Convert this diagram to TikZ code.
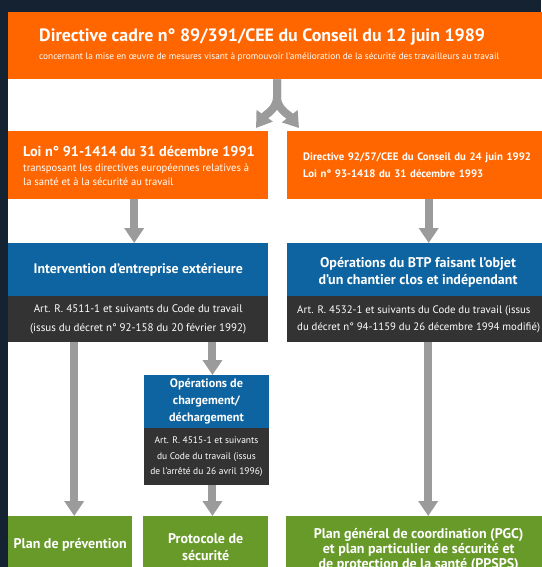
\documentclass[tikz,border=0pt]{standalone}
\usepackage{fontspec}
\setmainfont{PT Sans}
\usetikzlibrary{arrows.meta,calc}
\definecolor{navy}{HTML}{152232}
\definecolor{orng}{HTML}{FF6600}
\definecolor{blu}{HTML}{0E64A0}
\definecolor{drk}{HTML}{333333}
\definecolor{grn}{HTML}{689A2A}
\definecolor{arrg}{HTML}{9B9B9B}
\newcommand{\fs}[2]{\fontsize{#1}{#2}\selectfont}
\begin{document}
\begin{tikzpicture}[x=1pt,y=-1pt,
  box/.style={rectangle, inner sep=0pt, anchor=north west, text=white},
  txt/.style={inner sep=0pt, text=white},
  arr/.style={draw=arrg, line width=8pt, -{Triangle[width=19pt,length=15pt]}},
  bluebox/.style={box, fill=blu, font=\bfseries\fs{13.8}{17}, align=center},
  darkbox/.style={box, fill=drk, font=\fs{11}{19}, align=center},
  greenbox/.style={box, fill=grn, font=\bfseries\fs{14}{16.5}, align=center}]
\useasboundingbox (0,0) rectangle (541,567);
\fill[navy] (0,0) rectangle (541,567);
\fill[white] (8,12) rectangle (541,567);

% top banner
\node[box, fill=orng, minimum width=545pt, minimum height=67pt] (top) at (8,12) {};
\node[txt, anchor=west, font=\bfseries\fs{17.9}{20}] (toptitle) at (39,37)
  {Directive cadre n° 89/391/CEE du Conseil du 12 juin 1989};
\node[txt, anchor=west, font=\fs{9.3}{11}] (topsub) at (39,57.5)
  {concernant la mise en œuvre de mesures visant à promouvoir l’amélioration de la sécurité des travailleurs au travail};

% second row
\node[box, fill=orng, minimum width=260pt, minimum height=68pt] (loi) at (8,131) {};
\node[txt, anchor=west, align=left, font=\fs{10.6}{14}] (loitxt) at (23,166)
  {{\bfseries\fs{14.3}{15}Loi n° 91-1414 du 31 décembre 1991}\\[1pt]
   transposant les directives européennes relatives à\\
   la santé et à la sécurité au travail};
\node[box, fill=orng, minimum width=264pt, minimum height=68pt, inner xsep=16pt, text width=232pt, align=left, font=\bfseries\fs{10.8}{17}] (dir) at (287,131)
  {Directive 92/57/CEE du Conseil du 24 juin 1992\\ Loi n° 93-1418 du 31 décembre 1993};

% third row
\node[bluebox, minimum width=260pt, minimum height=53pt] (lblue) at (8,243)
  {Intervention d’entreprise extérieure};
\node[darkbox, minimum width=260pt, minimum height=46pt] (ldark) at (8,296)
  {Art. R. 4511-1 et suivants du Code du travail\\ (issus du décret n° 92-158 du 20 février 1992)};
\node[box, fill=blu, minimum width=264pt, minimum height=53pt] (rblue) at (287,243) {};
\node[txt, align=center, font=\bfseries\fs{14}{17}] (rbluetxt) at (418,272.5)
  {Opérations du BTP faisant l’objet\\ d’un chantier clos et indépendant};
\node[box, fill=drk, minimum width=264pt, minimum height=46pt] (rdark) at (287,296) {};
\node[txt, anchor=west, align=left, font=\fs{10.8}{17.5}] (rdarktxt) at (297,319.5)
  {Art. R. 4532-1 et suivants du Code du travail (issus\\ du décret n° 94-1159 du 26 décembre 1994 modifié)};

% small middle boxes
\node[bluebox, font=\bfseries\fs{12.2}{17}, minimum width=125.5pt, minimum height=53pt] (sblue) at (143.5,375)
  {Opérations de\\ chargement/\\ déchargement};
\node[darkbox, font=\fs{9.5}{15.5}, minimum width=125.5pt, minimum height=57pt] (sdark) at (143.5,428)
  {Art. R. 4515-1 et suivants\\ du Code du travail (issus\\ de l’arrêté du 26 avril 1996)};

% green boxes
\node[greenbox, minimum width=124pt, minimum height=58pt] (lgreen) at (8,516) {Plan de prévention};
\node[greenbox, font=\bfseries\fs{14}{17}, minimum width=125pt, minimum height=61pt] (mgreen) at (143,516) {Protocole de\\ sécurité};
\node[greenbox, font=\bfseries\fs{14}{15}, minimum width=265pt, minimum height=68pt] (rgreen) at (286,516)
  {Plan général de coordination (PGC)\\ et plan particulier de sécurité et\\ de protection de la santé (PPSPS)};

% fork arrow
\coordinate (fk) at (277,97);
\draw[arr] (top.south -| fk) -- (fk) .. controls (277,109) and (266,114) .. (256,128);
\draw[arr] (top.south -| fk) -- (fk) .. controls (277,109) and (288,114) .. (299,128);

% vertical arrows
\coordinate (la) at ([xshift=-4pt]lblue.north);
\draw[arr] (loi.south -| la) -- (la);
\coordinate (ra) at ([xshift=9.5pt]rblue.north);
\draw[arr] (dir.south -| ra) -- (ra);
\coordinate (a1) at ([xshift=4pt]lgreen.north);
\draw[arr] (ldark.south -| a1) -- (a1);
\coordinate (a2) at ([xshift=6pt]sblue.north);
\draw[arr] (ldark.south -| a2) -- (a2);
\coordinate (a3) at ([xshift=6pt]sdark.south);
\draw[arr] (a3) -- (mgreen.north -| a3);
\coordinate (a4) at ([xshift=9.5pt]rgreen.north);
\draw[arr] (rdark.south -| a4) -- (a4);
\end{tikzpicture}
\end{document}
